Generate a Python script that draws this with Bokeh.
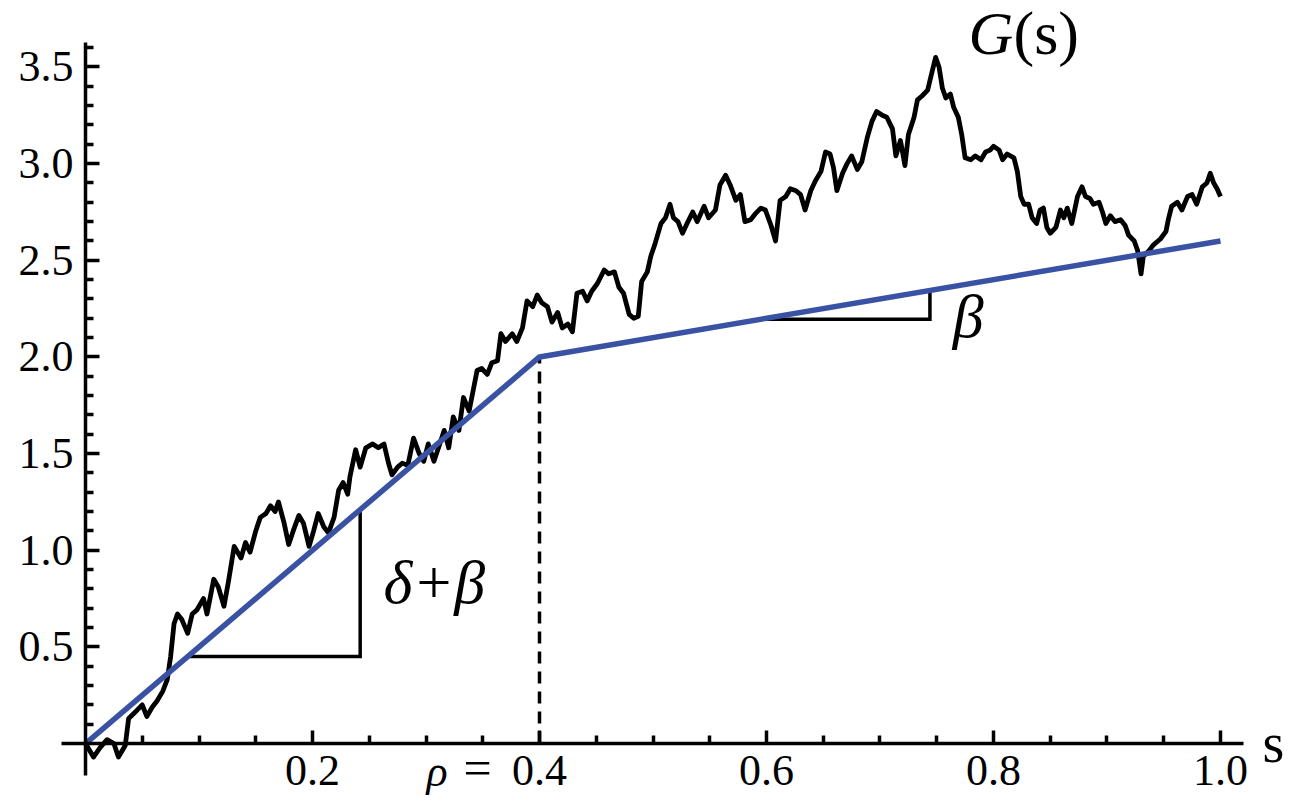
import numpy as np
from bokeh.plotting import figure
from bokeh.models import FixedTicker, Label, Range1d
from bokeh.embed import file_html
from bokeh.resources import INLINE

# ---------------- data ----------------
s_path = [0.000, 0.007, 0.013, 0.019, 0.025, 0.029, 0.035, 0.038, 0.045, 0.050,
          0.054, 0.059, 0.063, 0.068, 0.072, 0.075, 0.078, 0.081, 0.085, 0.090,
          0.094, 0.098, 0.104, 0.107, 0.113, 0.117, 0.122, 0.126, 0.131, 0.137,
          0.141, 0.145, 0.150, 0.154, 0.159, 0.163, 0.167, 0.170, 0.175, 0.179,
          0.183, 0.188, 0.192, 0.197, 0.201, 0.205, 0.210, 0.214, 0.219, 0.223,
          0.227, 0.231, 0.233, 0.238, 0.242, 0.247, 0.253, 0.258, 0.263, 0.267,
          0.270, 0.275, 0.279, 0.284, 0.289, 0.294, 0.298, 0.302, 0.307, 0.311,
          0.316, 0.320, 0.324, 0.329, 0.333, 0.338, 0.342, 0.345, 0.349, 0.354,
          0.358, 0.363, 0.366, 0.370, 0.376, 0.380, 0.385, 0.389, 0.394, 0.398,
          0.402, 0.407, 0.411, 0.416, 0.420, 0.425, 0.429, 0.433, 0.438, 0.442,
          0.446, 0.451, 0.457, 0.461, 0.466, 0.470, 0.474, 0.479, 0.483, 0.487,
          0.490, 0.495, 0.498, 0.502, 0.507, 0.511, 0.515, 0.518, 0.522, 0.526,
          0.530, 0.535, 0.539, 0.545, 0.549, 0.555, 0.559, 0.564, 0.568, 0.573,
          0.577, 0.581, 0.586, 0.590, 0.595, 0.599, 0.604, 0.608, 0.612, 0.617,
          0.621, 0.626, 0.630, 0.634, 0.639, 0.643, 0.648, 0.652, 0.656, 0.659,
          0.662, 0.667, 0.671, 0.675, 0.680, 0.684, 0.689, 0.693, 0.697, 0.702,
          0.706, 0.711, 0.714, 0.718, 0.722, 0.725, 0.730, 0.733, 0.737, 0.742,
          0.744, 0.749, 0.752, 0.755, 0.758, 0.762, 0.765, 0.769, 0.772, 0.775,
          0.780, 0.784, 0.789, 0.793, 0.797, 0.800, 0.805, 0.808, 0.812, 0.818,
          0.821, 0.824, 0.827, 0.831, 0.834, 0.838, 0.841, 0.844, 0.847, 0.850,
          0.855, 0.859, 0.862, 0.865, 0.869, 0.874, 0.878, 0.881, 0.885, 0.888,
          0.893, 0.896, 0.899, 0.903, 0.907, 0.912, 0.916, 0.919, 0.924, 0.927,
          0.930, 0.932, 0.937, 0.941, 0.947, 0.952, 0.954, 0.957, 0.962, 0.966,
          0.971, 0.975, 0.979, 0.984, 0.988, 0.991, 0.994, 0.997, 1.000]
g_path = [0.00, -0.07, -0.02, 0.02, 0.00, -0.07, -0.01, 0.13, 0.17, 0.20,
          0.14, 0.19, 0.22, 0.27, 0.33, 0.45, 0.62, 0.67, 0.64, 0.57,
          0.67, 0.69, 0.75, 0.67, 0.85, 0.81, 0.71, 0.84, 1.02, 0.96,
          1.04, 0.99, 1.10, 1.17, 1.19, 1.23, 1.20, 1.25, 1.14, 1.03,
          1.10, 1.18, 1.14, 1.02, 1.10, 1.19, 1.12, 1.09, 1.17, 1.31,
          1.35, 1.29, 1.38, 1.52, 1.43, 1.53, 1.55, 1.53, 1.55, 1.45,
          1.39, 1.43, 1.45, 1.44, 1.58, 1.50, 1.46, 1.55, 1.46, 1.53,
          1.62, 1.53, 1.69, 1.62, 1.79, 1.72, 1.84, 1.93, 1.94, 1.91,
          1.97, 1.98, 2.12, 2.08, 2.12, 2.08, 2.15, 2.29, 2.26, 2.32,
          2.28, 2.26, 2.18, 2.23, 2.15, 2.17, 2.13, 2.33, 2.34, 2.29,
          2.34, 2.38, 2.45, 2.43, 2.44, 2.36, 2.33, 2.22, 2.20, 2.21,
          2.39, 2.44, 2.52, 2.59, 2.69, 2.72, 2.79, 2.72, 2.70, 2.64,
          2.69, 2.75, 2.70, 2.78, 2.72, 2.76, 2.89, 2.94, 2.89, 2.81,
          2.84, 2.70, 2.71, 2.74, 2.77, 2.76, 2.68, 2.60, 2.81, 2.83,
          2.87, 2.86, 2.84, 2.76, 2.86, 2.91, 2.96, 3.06, 3.05, 2.98,
          2.86, 2.95, 3.00, 3.04, 2.97, 3.01, 3.14, 3.22, 3.27, 3.25,
          3.24, 3.18, 3.04, 3.12, 2.99, 3.15, 3.24, 3.33, 3.35, 3.38,
          3.43, 3.55, 3.50, 3.39, 3.34, 3.36, 3.29, 3.24, 3.15, 3.03,
          3.02, 3.04, 3.02, 3.06, 3.07, 3.09, 3.07, 3.02, 3.05, 3.03,
          2.96, 2.83, 2.79, 2.79, 2.72, 2.69, 2.76, 2.77, 2.67, 2.64,
          2.67, 2.76, 2.72, 2.77, 2.69, 2.83, 2.88, 2.83, 2.82, 2.79,
          2.80, 2.75, 2.69, 2.73, 2.70, 2.71, 2.68, 2.63, 2.60, 2.55,
          2.43, 2.52, 2.55, 2.58, 2.61, 2.65, 2.71, 2.78, 2.80, 2.76,
          2.83, 2.84, 2.79, 2.88, 2.90, 2.95, 2.90, 2.87, 2.83]

knot_s = [0.0, 0.4, 1.0]          # piecewise-linear drift
knot_g = [0.0, 2.0, 2.6]
rho = 0.4
tri1_s = [0.09, 0.242]            # slope triangle (delta + beta)
tri2_s = [0.595, 0.744]           # slope triangle (beta)

x_major = [0.2, 0.4, 0.6, 0.8, 1.0]
x_minor = [0.05, 0.1, 0.15, 0.25, 0.3, 0.35, 0.45, 0.5, 0.55, 0.65, 0.7,
           0.75, 0.85, 0.9, 0.95]
x_labels = ["0.2", "0.4", "0.6", "0.8", "1.0"]
y_major = [0.5, 1.0, 1.5, 2.0, 2.5, 3.0, 3.5]
y_minor = [0.1, 0.2, 0.3, 0.4, 0.6, 0.7, 0.8, 0.9, 1.1, 1.2, 1.3, 1.4,
           1.6, 1.7, 1.8, 1.9, 2.1, 2.2, 2.3, 2.4, 2.6, 2.7, 2.8, 2.9,
           3.1, 3.2, 3.3, 3.4, 3.6]
y_labels = ["0.5", "1.0", "1.5", "2.0", "2.5", "3.0", "3.5"]

# ---------------- figure ----------------
SERIF = "Liberation Serif"
BLUE = "#3a52a3"

p = figure(width=1289, height=796, output_backend="svg", toolbar_location=None,
           x_range=Range1d(-0.0749, 1.0608), y_range=Range1d(-0.274, 3.844),
           min_border=0, outline_line_color=None)
p.grid.visible = False
p.background_fill_color = "white"
p.border_fill_color = "white"

for ax in (p.xaxis[0], p.yaxis[0]):
    ax.fixed_location = 0
    ax.axis_line_width = 3.5
    ax.axis_line_color = "black"
    ax.major_tick_line_width = 3.5
    ax.minor_tick_line_width = 3.5
    ax.major_tick_out = 0
    ax.minor_tick_out = 0
    ax.minor_tick_in = 8
    ax.major_label_text_font = SERIF
    ax.major_label_text_font_size = "44px"
    ax.major_label_text_color = "black"

p.xaxis[0].ticker = FixedTicker(ticks=x_major, minor_ticks=x_minor)
p.xaxis[0].major_label_overrides = dict(zip(x_major, x_labels))
p.xaxis[0].bounds = (-0.021, 1.02)
p.xaxis[0].major_tick_in = 13
p.xaxis[0].major_label_standoff = 12

p.yaxis[0].ticker = FixedTicker(ticks=y_major, minor_ticks=y_minor)
p.yaxis[0].major_label_overrides = dict(zip(y_major, y_labels))
p.yaxis[0].bounds = (-0.166, 3.626)
p.yaxis[0].major_tick_in = 14
p.yaxis[0].major_label_standoff = 12

# random path
p.line(s_path, g_path, line_color="black", line_width=4.8, line_join="round")

# dashed line at rho
g_rho = float(np.interp(rho, knot_s, knot_g))
p.line([rho, rho], [0, g_rho], line_color="black", line_width=3.5, line_dash="12 8")

# slope triangles
for ts in (tri1_s, tri2_s):
    g0 = float(np.interp(ts[0], knot_s, knot_g))
    g1 = float(np.interp(ts[1], knot_s, knot_g))
    p.line([ts[0], ts[1], ts[1]], [g0, g0, g1], line_color="black",
           line_width=3.5, line_join="miter")

# drift line
p.line(knot_s, knot_g, line_color=BLUE, line_width=5.5)

# annotations (y given at the text baseline; middle-anchored, shifted up by ~0.35 em)
def lab(x, y, text, size, style="normal", xo=0, align="left", font=SERIF):
    p.add_layout(Label(x=x, y=y, text=text, x_offset=xo, y_offset=0.35 * size,
                       text_font=font, text_font_size=f"{size}px",
                       text_font_style=style, text_color="black",
                       text_align=align, text_baseline="middle"))

def lab_bottom(x, y, text, size, style="normal", xo=0, align="left"):
    p.add_layout(Label(x=x, y=y, text=text, x_offset=xo,
                       text_font=SERIF, text_font_size=f"{size}px",
                       text_font_style=style, text_color="black",
                       text_align=align, text_baseline="bottom"))

lab(0.2626, 0.724, "δ+β", 62, "italic")
lab(0.764, 2.10, "β", 62, "italic")
lab(0.778, 3.565, "G", 62, "italic")
lab(0.778, 3.565, "(s)", 62, "normal", xo=45)
lab(1.0, -0.098, "s", 56, "normal", xo=42)
lab_bottom(rho, -0.269, "ρ", 44, "italic", xo=-92, align="right")
lab_bottom(rho, -0.269, "=", 50, "normal", xo=-62, align="center")

open("out.html", "w").write(file_html(p, INLINE))
